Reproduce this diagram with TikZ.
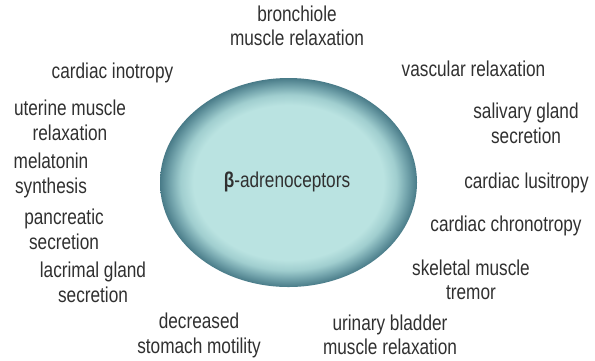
\documentclass[tikz,border=0pt]{standalone}
\usepackage{fontspec}
\setmainfont{Liberation Sans}[FakeStretch=0.8]
\usetikzlibrary{shapes.geometric}
\definecolor{txt}{HTML}{303030}
\definecolor{ballin}{HTML}{BAE3E1}
\definecolor{ballmid}{HTML}{A0CECF}
\definecolor{balldark}{HTML}{74A5AD}
\definecolor{ballout}{HTML}{497B88}
\pgfdeclareradialshading{betashade}{\pgfpoint{0bp}{0bp}}{color(0bp)=(ballin); color(18.5bp)=(ballin); color(21bp)=(ballmid); color(23bp)=(balldark); color(25bp)=(ballout); color(50bp)=(ballout)}
\tikzset{
  lbl/.style={font=\fontsize{21.6}{25}\selectfont, text=txt, align=center, inner sep=0pt},
  receptor/.style={ellipse, shading=betashade, inner sep=0pt, minimum width=257bp, minimum height=209bp}
}
\begin{document}
\begin{tikzpicture}[x=1bp,y=-1bp]
\useasboundingbox (0,0) rectangle (595,360);
\node[receptor] (beta) at (288.5,182.5) {};
\node[lbl] (betatext) at (287,182.7) {\strut\textbf{β}-adrenoceptors};
\node[lbl] (bronch) at (297,28.5) {\strut bronchiole\\\strut muscle relaxation};
\node[lbl] (inotropy) at (112.5,73.3) {\strut cardiac inotropy};
\node[lbl] (vascular) at (473.5,71.7) {\strut vascular relaxation};
\node[lbl] (uterine) at (70,123.2) {\strut uterine muscle\\\strut relaxation};
\node[lbl] (salivary) at (526,125.6) {\strut salivary gland\\\strut secretion};
\node[lbl] (melatonin) at (51,176) {\strut melatonin\\\strut synthesis};
\node[lbl] (lusitropy) at (526.5,183.3) {\strut cardiac lusitropy};
\node[lbl] (pancreatic) at (64,231.7) {\strut pancreatic\\\strut secretion};
\node[lbl] (chrono) at (506,226.7) {\strut cardiac chronotropy};
\node[lbl] (lacrimal) at (93,284.8) {\strut lacrimal gland\\\strut secretion};
\node[lbl] (skeletal) at (471,282.5) {\strut skeletal muscle\\\strut tremor};
\node[lbl] (stomach) at (199,335.8) {\strut decreased\\\strut stomach motility};
\node[lbl] (bladder) at (390,337.5) {\strut urinary bladder\\\strut muscle relaxation};
\end{tikzpicture}
\end{document}
